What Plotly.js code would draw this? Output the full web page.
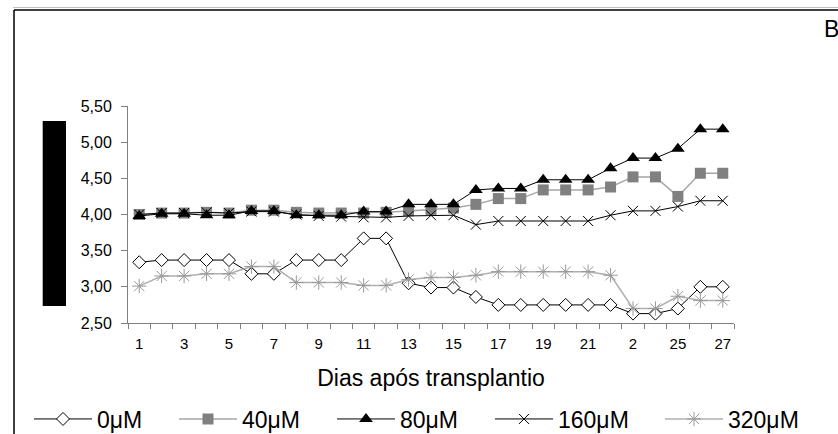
<!DOCTYPE html>
<html>
<head>
<meta charset="utf-8">
<script src="https://cdn.plot.ly/plotly-3.0.1.min.js"></script>
<style>html,body{margin:0;padding:0;background:#fff;}#chart{width:838px;height:434px;}</style>
</head>
<body>
<div id="chart"></div>
<script>
// ---- data ----
var dias = [1,2,3,4,5,6,7,8,9,10,11,12,13,14,15,16,17,18,19,20,21,22,23,24,25,26,27];
var tickPos = [1,3,5,7,9,11,13,15,17,19,21,23,25,27];
var tickLabels = ['1','3','5','7','9','11','13','15','17','19','21','2','25','27'];
var seriesNames = ['0μM','40μM','80μM','160μM','320μM'];
var s0 = [3.34,3.37,3.37,3.37,3.37,3.18,3.18,3.37,3.37,3.37,3.67,3.67,3.05,2.99,2.99,2.86,2.75,2.75,2.75,2.75,2.75,2.75,2.63,2.63,2.70,3.00,3.00];
var s40 = [4.00,4.02,4.02,4.03,4.02,4.06,4.06,4.03,4.02,4.02,4.02,4.03,4.05,4.07,4.09,4.14,4.22,4.22,4.34,4.34,4.34,4.38,4.52,4.52,4.25,4.57,4.57];
var s80 = [3.98,4.01,4.01,3.99,3.99,4.05,4.05,3.99,3.99,3.99,4.04,4.04,4.14,4.14,4.14,4.34,4.36,4.36,4.48,4.48,4.48,4.64,4.78,4.78,4.91,5.18,5.18];
var s160 = [4.00,4.02,4.02,4.03,4.02,4.04,4.04,4.00,3.98,3.97,3.96,3.96,3.98,3.99,3.99,3.86,3.91,3.91,3.91,3.91,3.91,3.99,4.05,4.05,4.11,4.19,4.19];
var s320 = [3.01,3.15,3.15,3.18,3.18,3.28,3.28,3.06,3.06,3.06,3.02,3.02,3.10,3.13,3.13,3.16,3.21,3.21,3.21,3.21,3.21,3.16,2.70,2.70,2.87,2.81,2.81];

var FONT = 'Liberation Sans, Arial, sans-serif';
var legendIds = ['legend','legend2','legend3','legend4','legend5'];

var traces = [
  {x: dias, y: s0, name: seriesNames[0], legend: legendIds[0], mode: 'lines+markers',
   line: {color: '#000000', width: 1},
   marker: {symbol: 'diamond', size: 10, color: '#ffffff', line: {color: '#000000', width: 1}}},
  {x: dias, y: s40, name: seriesNames[1], legend: legendIds[1], mode: 'lines+markers',
   line: {color: '#a6a6a6', width: 1.5},
   marker: {symbol: 'square', size: 11, color: '#808080', line: {width: 0}}},
  {x: dias, y: s80, name: seriesNames[2], legend: legendIds[2], mode: 'lines+markers',
   line: {color: '#000000', width: 1},
   marker: {symbol: 'triangle-up', size: 12, color: '#000000', line: {width: 0}}},
  {x: dias, y: s160, name: seriesNames[3], legend: legendIds[3], mode: 'lines+markers',
   line: {color: '#000000', width: 1},
   marker: {symbol: 'x-thin-open', size: 10, color: '#000000', line: {color: '#000000', width: 1}}},
  {x: dias, y: s320, name: seriesNames[4], legend: legendIds[4], mode: 'lines+markers',
   line: {color: '#b0b0b0', width: 1.5},
   marker: {symbol: 'asterisk-open', size: 12, color: '#999999', line: {color: '#999999', width: 1}}}
];

var minorTicks = [];
for (var i = 0; i <= dias.length; i++) minorTicks.push(dias[0] - 0.5 + i);

function px(xp){ return (xp - 128) / 606; }
function py(yp){ return (323 - yp) / 217; }

var legendX = [29, 174, 332, 490, 660];

var layout = {
  width: 838, height: 434,
  margin: {l: 128, r: 104, t: 106, b: 111},
  paper_bgcolor: '#ffffff', plot_bgcolor: '#ffffff',
  separators: ',.',
  font: {family: FONT, color: '#000000', size: 15},
  showlegend: true,
  xaxis: {
    range: [0.5, 27.5], showgrid: false, zeroline: false,
    showline: true, linecolor: '#808080', linewidth: 1,
    tickmode: 'array', tickvals: tickPos, ticktext: tickLabels,
    ticks: 'outside', ticklen: 5, tickcolor: 'rgba(0,0,0,0)',
    ticklabelstandoff: 2,
    tickfont: {family: FONT, size: 15, color: '#000'},
    minor: {tickmode: 'array', tickvals: minorTicks, ticks: 'outside', ticklen: 5, tickcolor: '#808080', tickwidth: 1},
    title: {text: 'Dias após transplantio', font: {family: FONT, size: 23, color: '#000'}, standoff: 18}
  },
  yaxis: {
    range: [2.5, 5.5], dtick: 0.5, tick0: 2.5, tickformat: '.2f',
    showgrid: false, zeroline: false,
    showline: true, linecolor: '#808080', linewidth: 1,
    ticks: 'outside', ticklen: 6, tickcolor: '#808080',
    ticklabelstandoff: 6,
    tickfont: {family: FONT, size: 16, color: '#000'}
  },
  shapes: [
    {type: 'line', xref: 'paper', yref: 'paper', x0: px(13), x1: px(840), y0: py(7.5), y1: py(7.5), line: {color: '#c0c0c0', width: 1}},
    {type: 'line', xref: 'paper', yref: 'paper', x0: px(14), x1: px(840), y0: py(10), y1: py(10), line: {color: '#000', width: 1.5}},
    {type: 'line', xref: 'paper', yref: 'paper', x0: px(14), x1: px(14), y0: py(10), y1: py(440), line: {color: '#000', width: 1.5}},
    {type: 'rect', xref: 'paper', yref: 'paper', x0: px(42.7), x1: px(66), y0: py(306), y1: py(121), fillcolor: '#000', line: {width: 0}}
  ],
  annotations: [
    {text: 'B', xref: 'paper', yref: 'paper', x: px(822), y: py(29), xanchor: 'left', yanchor: 'middle', showarrow: false, font: {family: FONT, size: 23, color: '#000'}}
  ]
};

legendIds.forEach(function(id, k){
  layout[id] = {
    orientation: 'h', xref: 'container', yref: 'container',
    x: legendX[k] / 838, y: 1 - 419 / 434, xanchor: 'left', yanchor: 'middle',
    font: {family: FONT, size: 23, color: '#000'},
    itemwidth: 58, bgcolor: 'rgba(0,0,0,0)', borderwidth: 0
  };
});

Plotly.newPlot('chart', traces, layout, {displayModeBar: false, staticPlot: true});
</script>
</body>
</html>
